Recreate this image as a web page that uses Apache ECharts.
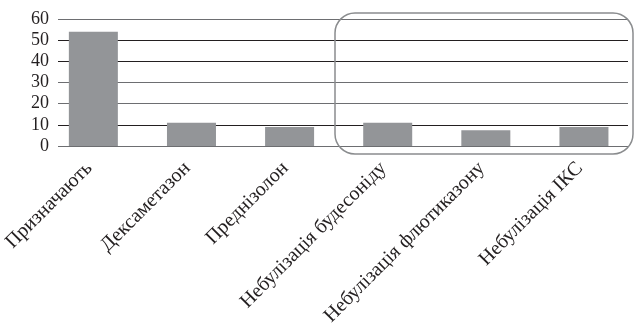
<!DOCTYPE html>
<html><head><meta charset="utf-8">
<script src="https://cdn.jsdelivr.net/npm/echarts@6/dist/echarts.min.js"></script>
<style>html,body{margin:0;padding:0;background:#fff}#c{width:636px;height:330px}</style>
</head><body><div id="c"></div>
<script>
const categories = ['Призначають','Дексаметазон','Преднізолон','Небулізація будесоніду','Небулізація флютиказону','Небулізація ІКС'];
const values = [54, 11, 9, 11, 7.5, 9];
const yTicks = [0, 10, 20, 30, 40, 50, 60];

const font = '"Liberation Serif", "DejaVu Serif", serif';
const chart = echarts.init(document.getElementById('c'), null, {renderer: 'canvas'});
chart.setOption({
  animation: false,
  grid: [
    {left: 42, width: 591, top: 19, bottom: 184},
    {left: 58, right: 8, top: 19, bottom: 184}
  ],
  xAxis: [
    {type: 'category', gridIndex: 0, data: categories,
     axisLine: {show: false}, axisTick: {show: false},
     axisLabel: {rotate: 45, interval: 0, margin: 15, padding: [0, 6, 0, 0],
       fontFamily: font, fontSize: 20, color: '#231f20'}},
    {type: 'value', gridIndex: 1, show: false, min: 0, max: 1}
  ],
  yAxis: [
    {type: 'value', gridIndex: 0, min: yTicks[0], max: yTicks[yTicks.length-1], interval: 10, show: false},
    {type: 'value', gridIndex: 1, min: yTicks[0], max: yTicks[yTicks.length-1], interval: 10,
     axisLine: {show: false}, axisTick: {show: false},
     axisLabel: {margin: 9, fontFamily: font, fontSize: 18, color: '#231f20',
       padding: [0, 0, 5, 0]},
     splitLine: {lineStyle: {width: 1, color: ['#6d6e71','#231f20','#6d6e71','#6d6e71','#231f20','#231f20','#6d6e71']}}}
  ],
  series: [{
    type: 'bar', xAxisIndex: 0, yAxisIndex: 0, data: values,
    barWidth: 49, itemStyle: {color: '#939598'}, z: 3
  }],
  graphic: [{
    type: 'rect', z: 10,
    shape: {x: 335, y: 13, width: 298, height: 141, r: 20},
    style: {fill: 'none', stroke: '#8a8c8e', lineWidth: 1.5}
  }]
});
</script></body></html>
